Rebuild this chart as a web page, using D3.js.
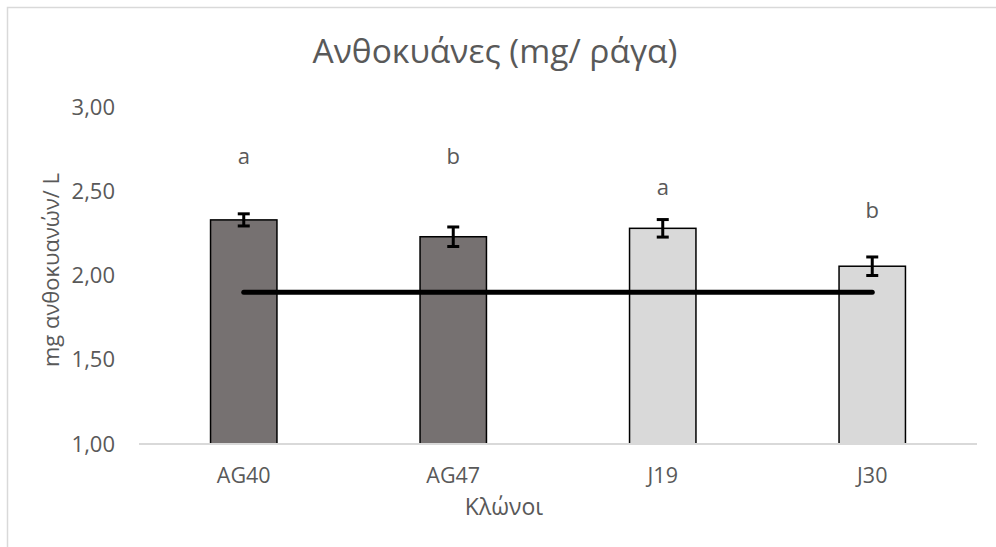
<!DOCTYPE html>
<html>
<head>
<meta charset="utf-8">
<script src="https://cdn.jsdelivr.net/npm/d3@7"></script>
<style>
  html, body { margin: 0; padding: 0; background: #fff; }
  svg { display: block; font-family: "Open Sans", sans-serif; }
</style>
</head>
<body>
<svg id="chart" width="996" height="547"></svg>
<script>
// Anthocyanin content per clone
const clones = ["AG40", "AG47", "J19", "J30"];
const means = [2.33, 2.23, 2.28, 2.055];
const errors = [0.036, 0.058, 0.052, 0.055];
const groupLetters = ["a", "b", "a", "b"];
const letterLevel = [2.66, 2.66, 2.48, 2.34];
const barFills = ["#767171", "#767171", "#d9d9d9", "#d9d9d9"];
const referenceLevel = 1.90;
const yTicks = [1.0, 1.5, 2.0, 2.5, 3.0];

const svg = d3.select("#chart");
const textColor = "#595959";

// Outer chart frame
svg.append("rect")
  .attr("x", 7.5).attr("y", 7.5)
  .attr("width", 1000).attr("height", 600)
  .attr("fill", "none").attr("stroke", "#d9d9d9").attr("stroke-width", 1.5);

const x = d3.scaleBand()
  .domain(clones)
  .range([139, 977])
  .paddingInner(0.683)
  .paddingOuter(0.3415);

const y = d3.scaleLinear().domain([1, 3]).range([444, 107]);

const fmt = v => d3.format(".2f")(v).replace(".", ",");

// Y axis: labels only
const yAxis = d3.axisLeft(y).tickValues(yTicks).tickFormat(fmt).tickSize(0).tickPadding(0);
const gy = svg.append("g").attr("transform", "translate(115,0)").call(yAxis);
gy.select(".domain").remove();
gy.selectAll("text")
  .attr("fill", textColor)
  .style("font-size", "22px")
  .style("font-family", "'Open Sans', sans-serif");

// Bars
svg.append("g").selectAll("rect")
  .data(clones)
  .join("rect")
  .attr("x", d => x(d))
  .attr("width", x.bandwidth())
  .attr("y", (d, i) => y(means[i]))
  .attr("height", (d, i) => y(1) - y(means[i]))
  .attr("fill", (d, i) => barFills[i])
  .attr("stroke", "#000")
  .attr("stroke-width", 1.5);

// X axis baseline and category labels
const xAxis = d3.axisBottom(x).tickSize(0).tickPadding(0);
const gx = svg.append("g").attr("transform", `translate(0,${y(1)})`).call(xAxis);
gx.select(".domain").attr("stroke", "#d9d9d9").attr("stroke-width", 2)
  .attr("d", `M${x.range()[0]},0H${x.range()[1]}`);
gx.selectAll("text")
  .attr("fill", textColor)
  .attr("dy", null)
  .attr("y", 39)
  .style("font-size", "21.5px")
  .style("font-family", "'Open Sans', sans-serif");

// Error bars
const eb = svg.append("g").attr("stroke", "#000").attr("stroke-width", 3);
clones.forEach((c, i) => {
  const cx = x(c) + x.bandwidth() / 2;
  const lo = y(means[i] - errors[i]);
  const hi = y(means[i] + errors[i]);
  eb.append("line").attr("x1", cx).attr("x2", cx).attr("y1", lo).attr("y2", hi);
  eb.append("line").attr("x1", cx - 6).attr("x2", cx + 6).attr("y1", lo).attr("y2", lo);
  eb.append("line").attr("x1", cx - 6).attr("x2", cx + 6).attr("y1", hi).attr("y2", hi);
});

// Reference line across clones
const first = clones[0], last = clones[clones.length - 1];
svg.append("line")
  .attr("x1", x(first) + x.bandwidth() / 2)
  .attr("x2", x(last) + x.bandwidth() / 2)
  .attr("y1", y(referenceLevel)).attr("y2", y(referenceLevel))
  .attr("stroke", "#000").attr("stroke-width", 5).attr("stroke-linecap", "round");

// Significance letters
svg.append("g").selectAll("text")
  .data(clones)
  .join("text")
  .attr("x", d => x(d) + x.bandwidth() / 2)
  .attr("y", (d, i) => y(letterLevel[i]))
  .attr("text-anchor", "middle")
  .attr("fill", textColor)
  .style("font-size", "22px")
  .text((d, i) => groupLetters[i]);

// Title
svg.append("text")
  .attr("x", 495).attr("y", 63)
  .attr("text-anchor", "middle")
  .attr("fill", textColor)
  .style("font-size", "33.5px")
  .text("Ανθοκυάνες (mg/ ράγα)");

// Axis titles
svg.append("text")
  .attr("x", 504).attr("y", 515)
  .attr("text-anchor", "middle")
  .attr("fill", textColor)
  .style("font-size", "23px")
  .text("Κλώνοι");

svg.append("text")
  .attr("transform", "translate(59,270) rotate(-90)")
  .attr("text-anchor", "middle")
  .attr("fill", textColor)
  .style("font-size", "22px")
  .text("mg ανθοκυανών/ L");
</script>
</body>
</html>
